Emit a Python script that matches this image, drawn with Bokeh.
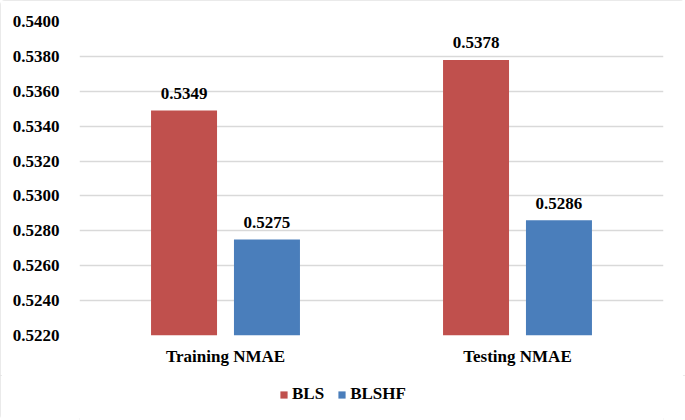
from bokeh.plotting import figure
from bokeh.layouts import column
from bokeh.models import ColumnDataSource, Legend, LegendItem, FactorRange, SingleIntervalTicker, NumeralTickFormatter
from bokeh.transform import dodge
from bokeh.core.properties import value
from bokeh.embed import file_html
from bokeh.resources import INLINE

categories = ["Training NMAE", "Testing NMAE"]
bls = [0.5349, 0.5378]
blshf = [0.5275, 0.5286]
series_names = ["BLS", "BLSHF"]
y_start, y_end, y_step = 0.5220, 0.5400, 0.0020

FONT = "Liberation Serif"
RED = "#C0504D"
BLUE = "#4A7EBB"

src = ColumnDataSource(dict(
    cat=categories,
    bls=bls,
    blshf=blshf,
    bls_lbl=["%.4f" % v for v in bls],
    blshf_lbl=["%.4f" % v for v in blshf],
    base=[y_start] * len(categories),
))

p = figure(x_range=FactorRange(*categories), y_range=(y_start, y_end),
           width=685, height=375, output_backend="svg", toolbar_location=None,
           min_border_left=79, min_border_right=22, min_border_top=21, min_border_bottom=40)

off = 0.142
w = 0.226
r1 = p.vbar(x=dodge("cat", -off, range=p.x_range), top="bls", bottom="base", width=w,
            source=src, fill_color=RED, line_color=None)
r2 = p.vbar(x=dodge("cat", off, range=p.x_range), top="blshf", bottom="base", width=w,
            source=src, fill_color=BLUE, line_color=None)

for col, lbl, d in [("bls", "bls_lbl", -off), ("blshf", "blshf_lbl", off)]:
    p.text(x=dodge("cat", d, range=p.x_range), y=col, text=lbl, source=src,
           text_font=value(FONT), text_font_style="bold", text_font_size="17px",
           text_align="center", text_baseline="alphabetic", y_offset=-17, text_color="#000000")

p.outline_line_color = None
p.xgrid.grid_line_color = None
p.ygrid.grid_line_color = "#d9d9d9"
p.ygrid.grid_line_width = 1.5

p.yaxis.ticker = SingleIntervalTicker(interval=y_step)
p.yaxis.formatter = NumeralTickFormatter(format="0.0000")
for ax in (p.xaxis[0], p.yaxis[0]):
    ax.axis_line_color = None
    ax.major_tick_line_color = None
    ax.minor_tick_line_color = None
    ax.major_label_text_font = FONT
    ax.major_label_text_font_style = "bold"
    ax.major_label_text_font_size = "17px"
    ax.major_label_text_color = "#000000"
p.yaxis.major_label_standoff = 14
p.xaxis.major_label_standoff = 5

# legend strip below the chart (swatch renderers carry no drawable data)
swatch = ColumnDataSource(dict(x=[float("nan")], top=[float("nan")]))
p2 = figure(width=685, height=45, output_backend="svg", toolbar_location=None,
            x_range=(0, 1), y_range=(0, 1), x_axis_type=None, y_axis_type=None,
            min_border=0)
p2.grid.grid_line_color = None
p2.outline_line_color = None
l1 = p2.vbar(x="x", top="top", width=0.1, source=swatch, fill_color=RED, line_color=None)
l2 = p2.vbar(x="x", top="top", width=0.1, source=swatch, fill_color=BLUE, line_color=None)

legend = Legend(items=[LegendItem(label=series_names[0], renderers=[l1]),
                       LegendItem(label=series_names[1], renderers=[l2])],
                orientation="horizontal", location=(200, 16),
                label_text_font=FONT, label_text_font_style="bold", label_text_font_size="17px",
                label_text_color="#000000",
                glyph_width=9, glyph_height=9, spacing=13, label_standoff=4,
                border_line_color=None, background_fill_alpha=0, padding=4, margin=0)
p2.add_layout(legend)

layout = column(p, p2, spacing=0, width=685, height=420)
layout.styles = {"outline": "2px solid #e3e3e3", "outline-offset": "-2px", "border-radius": "5px",
                 "min-height": "420px", "height": "420px"}
open("out.html", "w").write(file_html(layout, INLINE))
